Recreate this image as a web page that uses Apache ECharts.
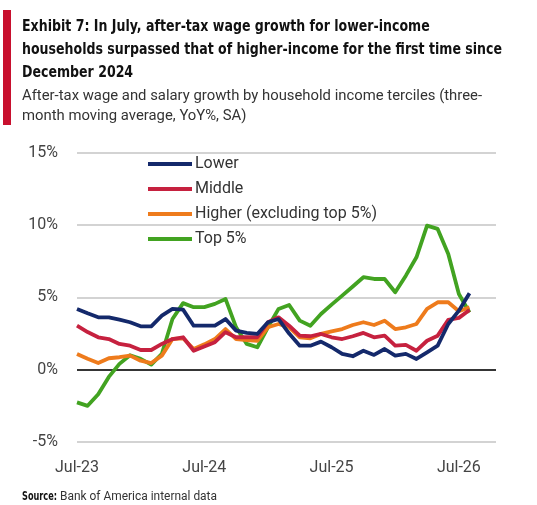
<!DOCTYPE html>
<html>
<head>
<meta charset="utf-8">
<script src="https://cdn.jsdelivr.net/npm/echarts@6/dist/echarts.min.js"></script>
<style>
  html, body { margin: 0; padding: 0; background: #fff; }
  #chart { width: 537px; height: 505px; }
</style>
</head>
<body>
<div id="chart"></div>
<script>
// monthly points, Jul-23 .. Aug-26
const months = [
  'Jul-23','Aug-23','Sep-23','Oct-23','Nov-23','Dec-23','Jan-24','Feb-24','Mar-24','Apr-24','May-24','Jun-24',
  'Jul-24','Aug-24','Sep-24','Oct-24','Nov-24','Dec-24','Jan-25','Feb-25','Mar-25','Apr-25','May-25','Jun-25',
  'Jul-25','Aug-25','Sep-25','Oct-25','Nov-25','Dec-25','Jan-26','Feb-26','Mar-26','Apr-26','May-26','Jun-26',
  'Jul-26','Aug-26'
];
const lower = [4.2, 3.9, 3.62, 3.62, 3.46, 3.28, 3.0, 3.0, 3.73, 4.2, 4.15, 3.04, 3.04, 3.04, 3.5, 2.7, 2.55, 2.47,
  3.28, 3.5, 2.5, 1.66, 1.66, 1.94, 1.55, 1.09, 0.93, 1.31, 1.02, 1.43, 0.97, 1.09, 0.74, 1.2, 1.66, 3.16, 4.08, 5.28];
const middle = [3.04, 2.6, 2.24, 2.12, 1.78, 1.66, 1.36, 1.36, 1.78, 2.12, 2.24, 1.31, 1.6, 1.9, 2.59, 2.24, 2.24, 2.24,
  3.28, 3.62, 3.04, 2.35, 2.31, 2.47, 2.24, 2.12, 2.31, 2.54, 2.24, 2.35, 1.66, 1.71, 1.31, 2.0, 2.35, 3.44, 3.58, 4.13];
const higher = [1.09, 0.75, 0.46, 0.79, 0.86, 0.97, 0.62, 0.46, 0.97, 2.12, 2.17, 1.43, 1.75, 2.12, 2.81, 2.12, 2.05, 2.0,
  2.93, 3.16, 2.93, 2.24, 2.17, 2.47, 2.65, 2.81, 3.09, 3.28, 3.09, 3.39, 2.81, 2.93, 3.16, 4.2, 4.66, 4.66, 4.04, 4.32];
const top5 = [-2.26, -2.5, -1.7, -0.5, 0.4, 1.0, 0.75, 0.35, 1.1, 3.5, 4.6, 4.32, 4.32, 4.55, 4.89, 2.93, 1.78, 1.55,
  2.93, 4.2, 4.47, 3.39, 3.04, 3.85, 4.5, 5.12, 5.75, 6.39, 6.27, 6.27, 5.35, 6.5, 7.77, 9.96, 9.73, 8.0, 5.23, 3.95];

const seriesNames = ['Lower', 'Middle', 'Higher (excluding top 5%)', 'Top 5%'];
const seriesColors = ['#14296b', '#c6213f', '#ee7b1c', '#42a321'];
const yTicks = [-5, 0, 5, 10, 15];

const titleLines = [
  'Exhibit 7: In July, after-tax wage growth for lower-income',
  'households surpassed that of higher-income for the first time since',
  'December 2024'
];
const subtitleLines = [
  'After-tax wage and salary growth by household income terciles (three-',
  'month moving average, YoY%, SA)'
];
const sourceBold = 'Source:';
const sourceText = 'Bank of America internal data';

const plain = "Roboto, 'Noto Sans', sans-serif";
const titleFont = "bold 16px 'DejaVu Sans Condensed', 'DejaVu Sans', sans-serif";
const subFont = "14.5px Roboto, 'Noto Sans', sans-serif";
const srcBoldFont = "bold 12px 'DejaVu Sans Condensed', sans-serif";
const srcFont = "12px Roboto, sans-serif";

// squeeze text horizontally to the width it takes in the original
const measureCtx = document.createElement('canvas').getContext('2d');
function squeeze(str, font, target) {
  measureCtx.font = font;
  return target / measureCtx.measureText(str).width;
}
const titleScale = squeeze(titleLines[1], titleFont, 480);
const subScale = squeeze(subtitleLines[0], subFont, 460);

const chart = echarts.init(document.getElementById('chart'), null, { renderer: 'canvas' });

function pairs(arr) {
  return arr.map((v, i) => [i, v]);
}

const series = [lower, middle, higher, top5].map((arr, k) => ({
  name: seriesNames[k],
  type: 'line',
  data: pairs(arr),
  showSymbol: false,
  symbol: 'none',
  z: 10 - k,
  lineStyle: { width: 3.8, color: seriesColors[k], join: 'round' },
  itemStyle: { color: seriesColors[k] },
  emphasis: { disabled: true }
}));

// zero line
series[0].markLine = {
  silent: true,
  symbol: 'none',
  label: { show: false },
  lineStyle: { color: '#000', width: 1.6, type: 'solid' },
  data: [{ yAxis: 0 }],
  z: 1
};

const textEls = [];
titleLines.forEach((t, i) => {
  textEls.push({
    type: 'text', x: 22, y: 26.5 + i * 23, scaleX: titleScale,
    style: { text: t, font: titleFont, fill: '#111', verticalAlign: 'middle' }
  });
});
subtitleLines.forEach((t, i) => {
  textEls.push({
    type: 'text', x: 22, y: 96.5 + i * 19.5, scaleX: subScale,
    style: { text: t, font: subFont, fill: '#333', verticalAlign: 'middle' }
  });
});
textEls.push({
  type: 'text', x: 22, y: 496.5, scaleX: squeeze(sourceBold, srcBoldFont, 35),
  style: { text: sourceBold, font: srcBoldFont, fill: '#111', verticalAlign: 'middle' }
});
textEls.push({
  type: 'text', x: 60, y: 496.5, scaleX: squeeze(sourceText, srcFont, 157),
  style: { text: sourceText, font: srcFont, fill: '#333', verticalAlign: 'middle' }
});

chart.setOption({
  animation: false,
  backgroundColor: '#fff',
  graphic: [
    { type: 'rect', shape: { x: 3, y: 10, width: 8, height: 115 }, style: { fill: '#c8102e' } }
  ].concat(textEls),
  legend: {
    orient: 'vertical',
    left: 148, top: 156,
    padding: 0,
    itemWidth: 44, itemHeight: 4,
    itemGap: 9,
    icon: 'rect',
    textStyle: { fontFamily: plain, fontSize: 16, color: '#333', padding: [0, 0, 0, -2] },
    data: seriesNames
  },
  grid: { left: 77, right: 41, top: 152.7, bottom: 63, containLabel: false },
  xAxis: {
    type: 'value',
    min: 0, max: 39.5, interval: 12,
    axisLine: { show: false },
    axisTick: { show: false },
    splitLine: { show: false },
    axisLabel: {
      margin: 18,
      fontFamily: plain, fontSize: 16, color: '#444',
      showMaxLabel: false,
      formatter: v => (Number.isInteger(v) && v % 12 === 0 && months[v]) ? months[v] : ''
    }
  },
  yAxis: {
    type: 'value',
    min: yTicks[0], max: yTicks[yTicks.length - 1], interval: 5,
    axisLine: { show: false },
    axisTick: { show: false },
    splitLine: { lineStyle: { color: '#c4c4c4', width: 1.6 } },
    axisLabel: {
      margin: 19,
      fontFamily: plain, fontSize: 16, color: '#444',
      formatter: v => v + '%'
    }
  },
  series: series
});
</script>
</body>
</html>
